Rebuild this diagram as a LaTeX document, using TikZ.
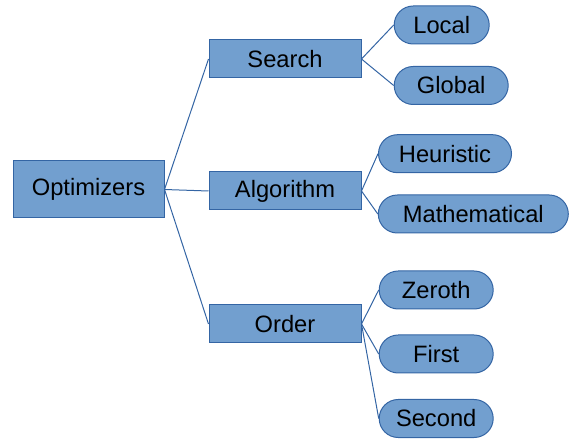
\documentclass[tikz,border=0pt]{standalone}
\usepackage{fontspec}
\setmainfont{Liberation Sans}
\definecolor{optF}{RGB}{114,159,207}
\definecolor{optL}{RGB}{52,101,164}

\begin{document}
\begin{tikzpicture}[x=1pt,y=-1pt,
  catbox/.style={draw=optL,fill=optF,line width=1pt,inner sep=0pt,minimum width=152pt,minimum height=38pt,font=\fontsize{23.7}{28}\selectfont},
  leafbox/.style={catbox,rounded corners=19pt,minimum width=#1},
  link/.style={optL,line width=1pt}]
\useasboundingbox (0,0) rectangle (576,446);
% root and the three categories
\node[catbox,minimum width=151pt,minimum height=57pt] (opt) at (88.5,189.5) {Optimizers};
\node[catbox] (srch) at (285,59) {Search};
\node[catbox] (algo) at (285,191) {Algorithm};
\node[catbox] (ord) at (285,324) {Order};
% leaves
\node[leafbox=95pt] (loc) at (441.7,25) {Local};
\node[leafbox=114pt] (glob) at (451.2,85.5) {Global};
\node[leafbox=133pt] (heur) at (445,153.7) {Heuristic};
\node[leafbox=190pt] (math) at (473.3,214) {Mathematical};
\node[leafbox=114pt] (zero) at (436.2,290) {Zeroth};
\node[leafbox=114pt] (first) at (436.2,354) {First};
\node[leafbox=114pt] (sec) at (436.2,418.5) {Second};
% links
\foreach \c in {srch,algo,ord} \draw[link] (opt.east)--(\c.west);
\foreach \c in {loc,glob} \draw[link] (srch.east)--(\c.west);
\foreach \c in {heur,math} \draw[link] (algo.east)--(\c.west);
\foreach \c in {zero,first,sec} \draw[link] (ord.east)--(\c.west);
\end{tikzpicture}
\end{document}
